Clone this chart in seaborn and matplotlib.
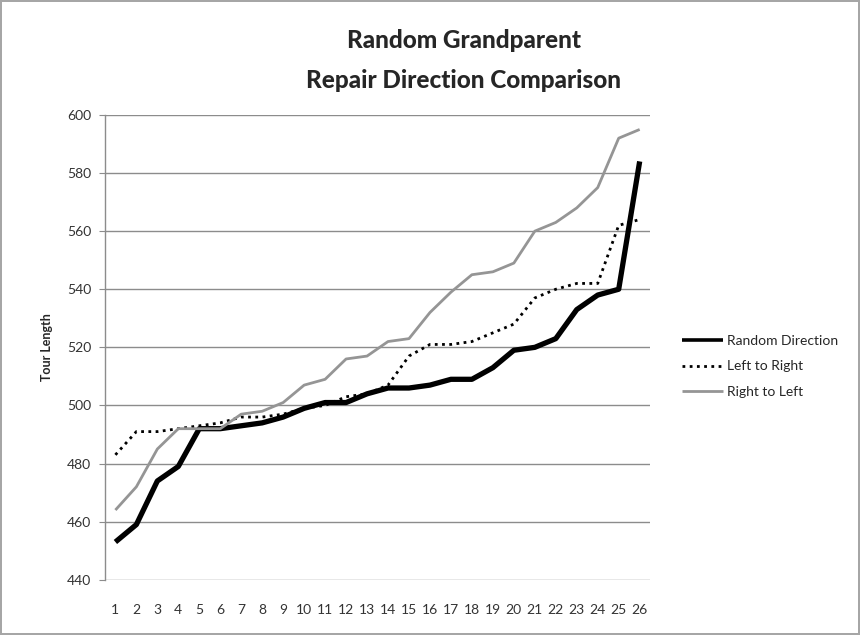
import numpy as np
import matplotlib
matplotlib.use("Agg")
import matplotlib.pyplot as plt
import seaborn as sns
import pandas as pd

runs = list(range(1, 27))
random_dir = [453, 459, 474, 479, 492, 492, 493, 494, 496, 499, 501, 501, 504,
              506, 506, 507, 509, 509, 513, 519, 520, 523, 533, 538, 540, 584]
left_right = [483, 491, 491, 492, 493, 494, 496, 496, 497, 499, 500, 503, 504,
              507, 517, 521, 521, 522, 525, 528, 537, 540, 542, 542, 562, 564]
right_left = [464, 472, 485, 492, 492, 492, 497, 498, 501, 507, 509, 516, 517,
              522, 523, 532, 539, 545, 546, 549, 560, 563, 568, 575, 592, 595]
series_names = ["Random Direction", "Left to Right", "Right to Left"]
y_ticks = [440, 460, 480, 500, 520, 540, 560, 580, 600]

sns.set_style("white")
plt.rcParams["font.family"] = ["Lato", "DejaVu Sans"]

df = pd.DataFrame({
    "run": runs * 3,
    "length": random_dir + left_right + right_left,
    "series": np.repeat(series_names, len(runs)),
})

styles = {
    "Random Direction": dict(color="black", linewidth=3.8, linestyle="-"),
    "Left to Right": dict(color="black", linewidth=2.0, linestyle=(0, (1, 1.6))),
    "Right to Left": dict(color="#959595", linewidth=2.0, linestyle="-"),
}

fig = plt.figure(figsize=(8.6, 6.35), dpi=100, edgecolor="#a6a6a6", linewidth=1.5)
ax = fig.add_axes([0.122, 0.087, 0.634, 0.732])

for name in series_names:
    sub = df[df["series"] == name]
    sns.lineplot(data=sub, x="run", y="length", ax=ax, label=name,
                 solid_capstyle="butt", **styles[name])

ax.set_xlim(0.5, 26.5)
ax.set_ylim(440, 600)
ax.set_yticks(y_ticks)
ax.set_xticks(runs)
ax.set_xticklabels([str(r) for r in runs])
ax.yaxis.grid(True, color="#8c8c8c", linewidth=1.0)
ax.set_axisbelow(True)
for s in ["top", "right", "bottom"]:
    ax.spines[s].set_visible(False)
ax.spines["left"].set_color("#8c8c8c")
ax.spines["left"].set_linewidth(1.0)
ax.tick_params(axis="y", which="major", left=True, length=4, color="#8c8c8c",
               labelsize=10, labelcolor="#333333", pad=6)
ax.tick_params(axis="x", bottom=False, labelsize=10, labelcolor="#333333", pad=14)
ax.set_xlabel("")
ax.set_ylabel("Tour Length", fontsize=9, fontweight="bold", labelpad=10)

fig.text(0.539, 0.937, "Random Grandparent", ha="center", va="center",
         fontsize=17.5, fontweight="black")
fig.text(0.539, 0.874, "Repair Direction Comparison", ha="center", va="center",
         fontsize=17.5, fontweight="black")

leg = ax.legend(loc="center left", bbox_to_anchor=(0.778, 0.423),
                bbox_transform=fig.transFigure, frameon=False, fontsize=10,
                handlelength=3.0, handletextpad=0.25, labelspacing=1.0)
leg.get_lines()[0].set_linewidth(2.6)

fig.savefig("out.png", dpi=100, edgecolor=fig.get_edgecolor())
